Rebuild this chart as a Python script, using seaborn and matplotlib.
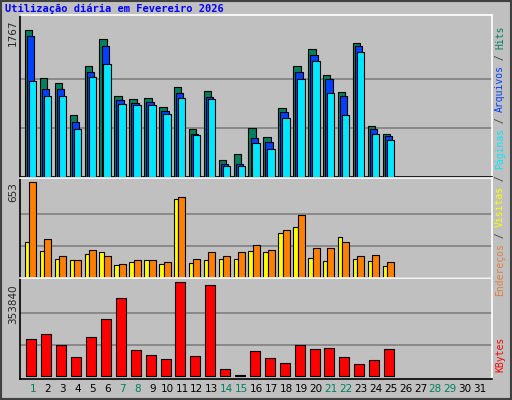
import numpy as np
import matplotlib
matplotlib.use("Agg")
import matplotlib.pyplot as plt
import matplotlib.transforms as mtrans
import seaborn as sns

days = list(range(1, 32))
weekend = [1, 7, 8, 14, 15, 21, 22, 28, 29]

hits = [1767, 1191, 1131, 748, 1335, 1659, 976, 940, 952, 844, 1084, 580, 1036, 208, 280,
        592, 484, 832, 1335, 1539, 1227, 1024, 1611, 616, 520]
files = [1687, 1060, 1060, 664, 1263, 1575, 928, 892, 904, 796, 1012, 520, 964, 160, 160,
         472, 424, 784, 1263, 1467, 1179, 976, 1575, 580, 496]
pages = [1146, 976, 976, 580, 1203, 1351, 880, 868, 868, 760, 952, 508, 940, 137, 137,
         412, 340, 712, 1179, 1395, 1012, 748, 1503, 520, 448]
visits = [242, 186, 129, 122, 164, 179, 87, 108, 122, 94, 538, 101, 122, 129, 129,
          186, 179, 305, 348, 136, 115, 277, 129, 115, 80]
hosts = [653, 263, 150, 122, 193, 150, 94, 122, 122, 108, 552, 129, 179, 150, 179,
         221, 193, 326, 425, 207, 207, 242, 150, 157, 108]
kbytes = [136900, 156260, 117520, 71030, 144640, 214370, 291850, 98150, 78770, 63280,
          353840, 74900, 342220, 24540, 5170, 94270, 67150, 47780, 117520, 102020,
          105890, 71030, 43910, 59400, 102020]

sns.set_style("white")
plt.rcParams['font.family'] = ['DejaVu Sans']
bg = '#c0c0c0'
fig = plt.figure(figsize=(5.12, 4.0), dpi=100, facecolor=bg)

L, W = 20 / 512, 472 / 512
ax1 = fig.add_axes([L, 1 - 177 / 400, W, 162 / 400])
ax2 = fig.add_axes([L, 1 - 278 / 400, W, 100 / 400])
ax3 = fig.add_axes([L, 1 - 379 / 400, W, 101 / 400])

x = np.arange(1, len(hits) + 1)
ax1.bar(x - 0.54, hits, width=0.5, align='edge', color='#00805c', edgecolor='black', lw=0.8, zorder=3)
ax1.bar(x - 0.40, files, width=0.5, align='edge', color='#0040ff', edgecolor='black', lw=0.8, zorder=4)
ax1.bar(x - 0.27, pages, width=0.5, align='edge', color='#00e8ff', edgecolor='black', lw=0.8, zorder=5)
ax1.set_ylim(0, 1767 * 162 / 147.4)

ax2.bar(x - 0.54, visits, width=0.3, align='edge', color='#ffff00', edgecolor='black', lw=0.8, zorder=3)
ax2.bar(x - 0.24, hosts, width=0.47, align='edge', color='#ff8000', edgecolor='black', lw=0.8, zorder=4)
ax2.set_ylim(0, 679)

ax3.bar(x - 0.44, kbytes, width=0.67, align='edge', color='#ff0000', edgecolor='black', lw=0.8, zorder=3)
ax3.set_ylim(-11600, 368000)

for ax, mx in [(ax1, 1767), (ax2, 653), (ax3, 353840)]:
    ax.set_facecolor(bg)
    ax.set_xlim(0.13, 31.8)
    ax.set_xticks([])
    ax.set_yticks([])
    for g in (mx / 3, 2 * mx / 3):
        ax.axhline(g, color='#808080', lw=1.2, zorder=1)
    for s in ax.spines.values():
        s.set_color('black')
        s.set_linewidth(1.2)
    ax.spines['right'].set_color('white')
    ax.spines['top'].set_color('white')

# max labels on the left
fig.text(13 / 512, 1 - 20 / 400, "1767", rotation=90, ha='center', va='top', fontsize=7.5)
fig.text(13 / 512, 1 - 182 / 400, "653", rotation=90, ha='center', va='top', fontsize=7.5)
fig.text(13 / 512, 1 - 284 / 400, "353840", rotation=90, ha='center', va='top', fontsize=7.5)

# day labels
tr = mtrans.blended_transform_factory(ax3.transData, fig.transFigure)
for d in days:
    ax3.text(d, 1 - 389 / 400, str(d), transform=tr, ha='center', va='center', fontsize=7.5,
             color='#008060' if d in weekend else 'black')

# right side legend text, bottom to top
pieces = [("Endereços", '#e08040'), (" / ", '#404040'), ("Visitas", '#ffff00'), (" / ", '#404040'),
          ("Páginas", '#00e8ff'), (" / ", '#404040'), ("Arquivos", '#0040ff'), (" / ", '#404040'),
          ("Hits", '#008060')]
y = 1 - 296 / 400
step = 5.75 / 400
for txt, col in pieces:
    fig.text(500 / 512, y, txt, rotation=90, ha='center', va='bottom', fontsize=7,
             family='DejaVu Sans Mono', color=col)
    y += len(txt) * step
fig.text(500 / 512, 1 - 372 / 400, "KBytes", rotation=90, ha='center', va='bottom', fontsize=7,
         family='DejaVu Sans Mono', color='#ff0000')

fig.text(5 / 512, 1 - 4 / 400, "Utilização diária em Fevereiro 2026", ha='left', va='top',
         fontsize=7.5, family='DejaVu Sans Mono', weight='bold', color='#0000ff')

# outer frame
fig.patches.append(plt.Rectangle((0.001, 0.002), 0.997, 0.996, transform=fig.transFigure,
                                 fill=False, edgecolor='#404040', lw=1.5))

fig.savefig("out.png", dpi=100, facecolor=bg)
